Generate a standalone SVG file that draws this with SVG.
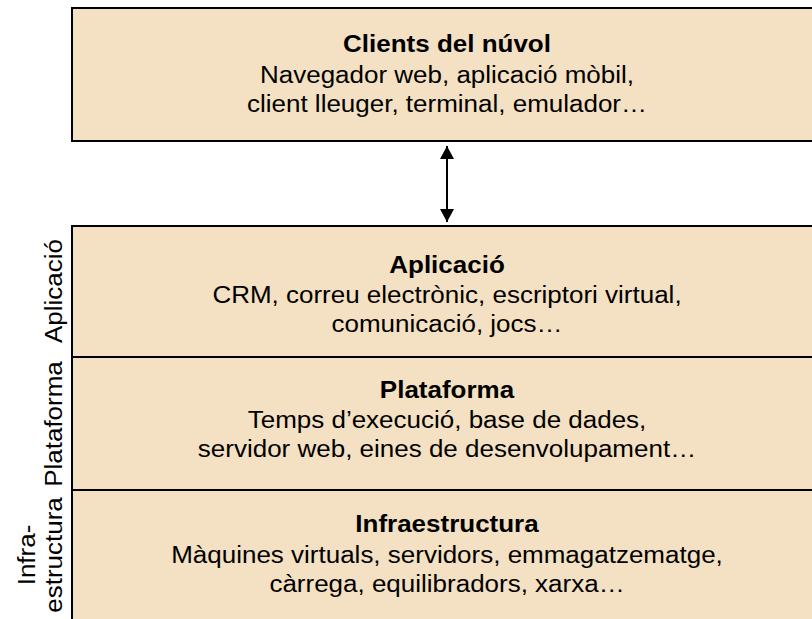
<svg xmlns="http://www.w3.org/2000/svg" width="812" height="619" viewBox="0 0 812 619">
<defs>
<style>
.box{fill:#F4E0C2;stroke:#000;stroke-width:2}
.t{font-family:"Liberation Sans",Arial,sans-serif;font-size:23px;fill:#000;text-anchor:middle}
.b{font-weight:bold}
</style>
<marker id="ah" viewBox="0 0 14 14" refX="13" refY="7" markerWidth="14" markerHeight="14" orient="auto-start-reverse" markerUnits="userSpaceOnUse">
<path d="M0,0 L13,7 L0,14 z" fill="#000"/>
</marker>
</defs>
<rect width="812" height="619" fill="#fff"/>
<g id="clients">
<rect class="box" x="72" y="8" width="750" height="133"/>
<g transform="translate(447,0) scale(1.13,1)">
<text class="t b" x="0" y="52">Clients del núvol</text>
<text class="t" x="0" y="83">Navegador web, aplicació mòbil,</text>
<text class="t" x="0" y="112">client lleuger, terminal, emulador…</text>
</g>
</g>
<g id="aplicacio">
<rect class="box" x="72" y="226" width="750" height="131"/>
<g transform="translate(447,0) scale(1.13,1)">
<text class="t b" x="0" y="273">Aplicació</text>
<text class="t" x="0" y="303">CRM, correu electrònic, escriptori virtual,</text>
<text class="t" x="0" y="332">comunicació, jocs…</text>
</g>
</g>
<g id="plataforma">
<rect class="box" x="72" y="357" width="750" height="133"/>
<g transform="translate(447,0) scale(1.13,1)">
<text class="t b" x="0" y="398">Plataforma</text>
<text class="t" x="0" y="428">Temps d’execució, base de dades,</text>
<text class="t" x="0" y="457">servidor web, eines de desenvolupament…</text>
</g>
</g>
<g id="infraestructura">
<rect class="box" x="72" y="490" width="750" height="140"/>
<g transform="translate(447,0) scale(1.13,1)">
<text class="t b" x="0" y="532">Infraestructura</text>
<text class="t" x="0" y="563">Màquines virtuals, servidors, emmagatzematge,</text>
<text class="t" x="0" y="592">càrrega, equilibradors, xarxa…</text>
</g>
</g>
<g id="labels">
<text class="t" transform="translate(62,291) rotate(-90) scale(1.13,1)">Aplicació</text>
<text class="t" transform="translate(62,424) rotate(-90) scale(1.13,1)">Plataforma</text>
<text class="t" transform="translate(35,555) rotate(-90) scale(1.13,1)">Infra-</text>
<text class="t" transform="translate(62,555) rotate(-90) scale(1.13,1)">estructura</text>
</g>
<g id="connectors">
<line x1="447" y1="146" x2="447" y2="222" stroke="#000" stroke-width="2" marker-start="url(#ah)" marker-end="url(#ah)"/>
</g>
</svg>
